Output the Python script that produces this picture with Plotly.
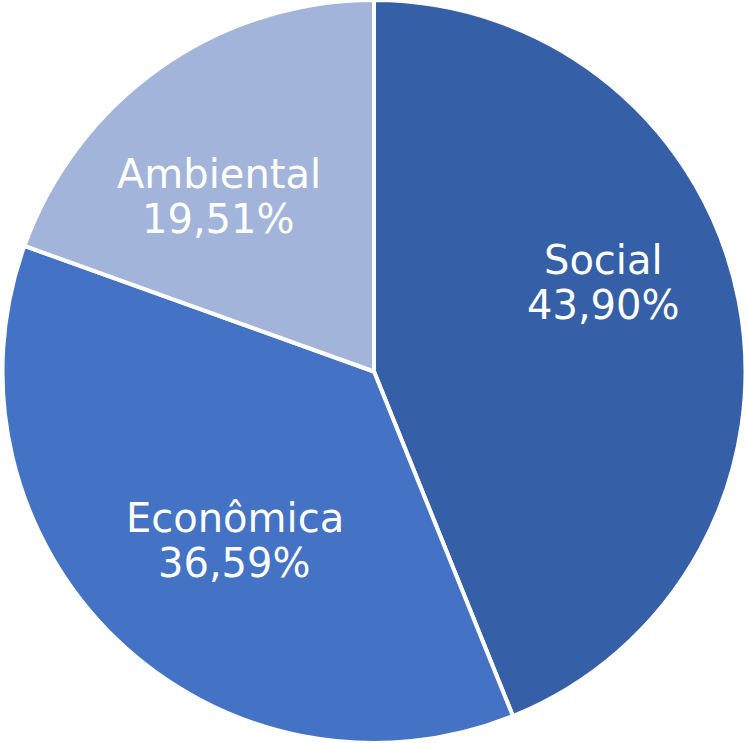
import math
import plotly.graph_objects as go

labels = ["Social", "Econômica", "Ambiental"]
values = [43.90, 36.59, 19.51]
colors = ["#355FA6", "#4472C4", "#A3B4DA"]

# label placement style (angle shift in degrees from slice middle, radius fraction)
label_angle_shift = [-10.1, -4.5, -6.4]
label_radius_frac = [0.663, 0.590, 0.630]
line_gap_px = 45

W, H = 748, 743
fig = go.Figure(go.Pie(
    labels=labels,
    values=values,
    sort=False,
    direction="clockwise",
    rotation=0,
    marker=dict(colors=colors, line=dict(color="white", width=4)),
    textinfo="none",
    hoverinfo="skip",
    showlegend=False,
))

cx, cy, R = W / 2, H / 2, min(W, H) / 2
total = sum(values)
cum = 0.0
font = dict(family="DejaVu Sans, sans-serif", size=40, color="white")
for lab, v, sh, rf in zip(labels, values, label_angle_shift, label_radius_frac):
    mid = (cum + v / 2) / total * 360 + sh
    cum += v
    a = math.radians(mid)
    px = cx + rf * R * math.sin(a)
    py = cy - rf * R * math.cos(a)
    pct = f"{v / total * 100:.2f}%".replace(".", ",")
    for txt, off in ((lab, -line_gap_px / 2), (pct, line_gap_px / 2)):
        fig.add_annotation(
            x=px / W, y=1 - (py + off) / H, xref="paper", yref="paper",
            text=txt, showarrow=False, xanchor="center", yanchor="middle",
            font=font,
        )

fig.update_layout(
    width=W, height=H,
    margin=dict(l=0, r=0, t=0, b=0),
    paper_bgcolor="white",
)
fig.write_html(
    "out.html",
    config={"displayModeBar": False},
    post_script="document.body.style.margin='0';",
)
